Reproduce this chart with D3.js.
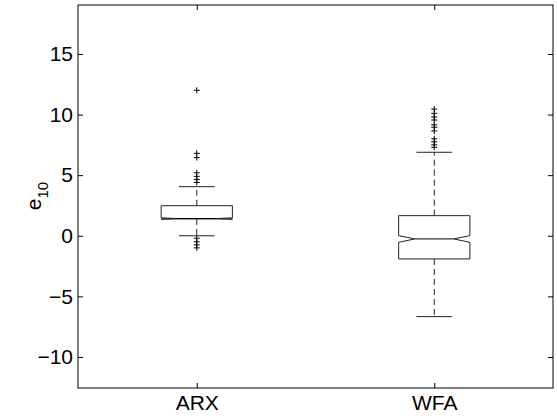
<!DOCTYPE html>
<html>
<head>
<meta charset="utf-8">
<script src="https://cdn.jsdelivr.net/npm/d3@7"></script>
<style>
  body { margin: 0; background: #fff; }
  text { font-family: "Liberation Sans", Arial, sans-serif; }
</style>
</head>
<body>
<svg width="557" height="419"></svg>
<script>
// groups and the box summaries
const groups = ["ARX", "WFA"];
const q1 = [1.39, -1.91];
const median = [1.42, -0.26];
const q3 = [2.48, 1.66];
const notchLo = [1.36, -0.54];
const notchHi = [1.48, 0.01];
const whiskerLo = [0.0, -6.67];
const whiskerHi = [4.05, 6.89];
const outliers = [
  [12.0, 6.8, 6.45, 5.2, 4.9, 4.65, 4.4, -0.2, -0.5, -0.75, -1.0],
  [10.45, 10.1, 9.8, 9.55, 9.15, 8.95, 8.65, 8.0, 7.75, 7.5, 7.3]
];
const yTicks = [-10, -5, 0, 5, 10, 15];

const svg = d3.select("svg"),
  margin = { left: 78, right: 4, top: 5, bottom: 31 },
  width = +svg.attr("width"),
  height = +svg.attr("height"),
  x0 = margin.left,
  x1 = width - margin.right,
  y0 = margin.top,
  y1 = height - margin.bottom;

// positions 1 and 2 on a 0.5..2.5 axis, like matlab boxplot
const x = d3.scaleLinear().domain([0.5, 2.5]).range([x0, x1]);
const y = d3.scaleLinear().domain([-12.56, 19.04]).range([y1, y0]);

const boxHalf = 0.15, capHalf = 0.075, notchIn = 0.068;
const ink = "#222";
const fontSize = 21;

// axes frame
svg.append("rect")
  .attr("x", x0).attr("y", y0)
  .attr("width", x1 - x0).attr("height", y1 - y0)
  .attr("fill", "none").attr("stroke", "#000").attr("stroke-width", 1);

// y axis left, ticks inside
const yAxis = svg.append("g")
  .attr("transform", "translate(" + x0 + ",0)")
  .call(d3.axisLeft(y).tickValues(yTicks).tickSizeInner(-5).tickSizeOuter(0).tickPadding(5));
yAxis.select(".domain").remove();
yAxis.selectAll("text").attr("font-size", fontSize).attr("fill", "#000")
  .style("font-family", "'Liberation Sans', Arial, sans-serif");

// mirrored ticks on the right
svg.append("g")
  .attr("transform", "translate(" + x1 + ",0)")
  .call(d3.axisRight(y).tickValues(yTicks).tickSizeInner(-5).tickSizeOuter(0).tickFormat(""))
  .select(".domain").remove();

// x axis bottom
const xAxis = svg.append("g")
  .attr("transform", "translate(0," + y1 + ")")
  .call(d3.axisBottom(x).tickValues([1, 2]).tickSizeInner(-5).tickSizeOuter(0).tickPadding(7)
    .tickFormat((d, i) => groups[i]));
xAxis.select(".domain").remove();
xAxis.selectAll("text").attr("font-size", fontSize).attr("fill", "#000")
  .style("font-family", "'Liberation Sans', Arial, sans-serif");

svg.append("g")
  .attr("transform", "translate(0," + y0 + ")")
  .call(d3.axisTop(x).tickValues([1, 2]).tickSizeInner(-5).tickSizeOuter(0).tickFormat(""))
  .select(".domain").remove();

// y label e_10
const ylab = svg.append("text")
  .attr("transform", "translate(41,196) rotate(-90)")
  .attr("text-anchor", "middle")
  .attr("font-size", fontSize)
  .attr("fill", "#000");
ylab.append("tspan").text("e");
ylab.append("tspan").attr("font-size", 15).attr("dy", 7).text("10");

// boxes
const boxes = svg.append("g").attr("class", "boxes");
groups.forEach(function (g, i) {
  const c = i + 1;
  const bx = boxes.append("g");

  // whiskers, dashed
  bx.append("line")
    .attr("x1", x(c)).attr("x2", x(c))
    .attr("y1", y(q3[i])).attr("y2", y(whiskerHi[i]))
    .attr("stroke", ink).attr("stroke-dasharray", "6,4");
  bx.append("line")
    .attr("x1", x(c)).attr("x2", x(c))
    .attr("y1", y(q1[i])).attr("y2", y(whiskerLo[i]))
    .attr("stroke", ink).attr("stroke-dasharray", "6,4");

  // caps
  [whiskerHi[i], whiskerLo[i]].forEach(function (v) {
    bx.append("line")
      .attr("x1", x(c - capHalf)).attr("x2", x(c + capHalf))
      .attr("y1", y(v)).attr("y2", y(v))
      .attr("stroke", ink);
  });

  // notched box outline
  const L = x(c - boxHalf), R = x(c + boxHalf);
  const Li = x(c - boxHalf + notchIn), Ri = x(c + boxHalf - notchIn);
  const pts = [
    [L, y(q1[i])], [L, y(notchLo[i])], [Li, y(median[i])], [L, y(notchHi[i])], [L, y(q3[i])],
    [R, y(q3[i])], [R, y(notchHi[i])], [Ri, y(median[i])], [R, y(notchLo[i])], [R, y(q1[i])]
  ];
  bx.append("path")
    .attr("d", d3.line()(pts) + "Z")
    .attr("fill", "none").attr("stroke", ink);

  // median
  bx.append("line")
    .attr("x1", Li).attr("x2", Ri)
    .attr("y1", y(median[i])).attr("y2", y(median[i]))
    .attr("stroke", "#000");

  // outliers as plus marks
  bx.selectAll("path.out")
    .data(outliers[i])
    .enter()
    .append("path")
    .attr("class", "out")
    .attr("d", function (d) {
      const px = x(c), py = y(d), s = 3;
      return "M" + (px - s) + "," + py + "H" + (px + s) + "M" + px + "," + (py - s) + "V" + (py + s);
    })
    .attr("stroke", "#000").attr("stroke-width", 1);
});
</script>
</body>
</html>
